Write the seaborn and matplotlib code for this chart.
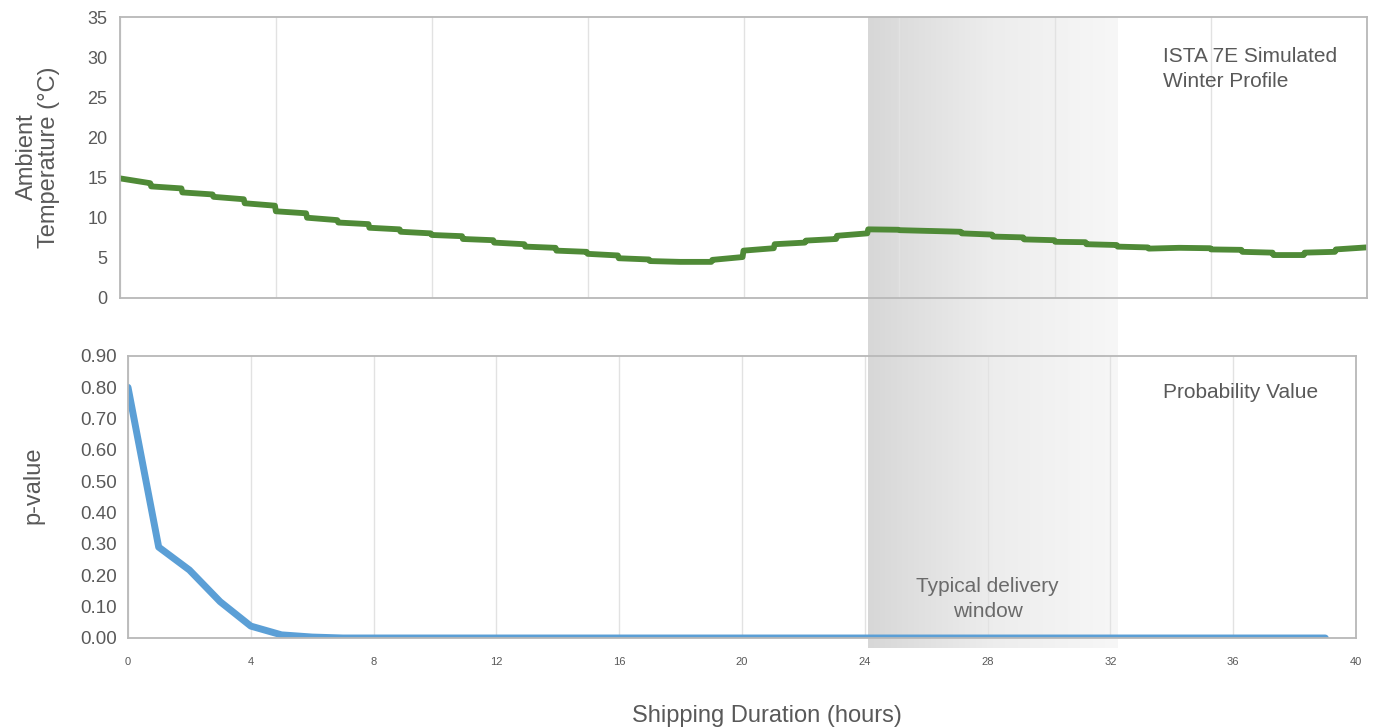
import numpy as np
import pandas as pd
import seaborn as sns
import matplotlib.pyplot as plt
from matplotlib.colors import LinearSegmentedColormap

# hourly temperature profile: value right after each hourly step and just before the next one
hours = list(range(40))
temp_start = [14.9, 13.9, 13.15, 12.6, 11.8, 10.8, 10.0, 9.4, 8.75, 8.25,
              7.85, 7.35, 6.9, 6.4, 5.9, 5.5, 4.95, 4.6, 4.5, 4.75,
              5.9, 6.7, 7.15, 7.75, 8.55, 8.45, 8.35, 8.05, 7.65, 7.3,
              7.0, 6.7, 6.4, 6.15, 6.25, 6.05, 5.75, 5.35, 5.65, 6.05]
temp_end = [14.3, 13.65, 12.9, 12.3, 11.5, 10.55, 9.7, 9.2, 8.55, 8.05,
            7.7, 7.2, 6.7, 6.25, 5.75, 5.3, 4.8, 4.5, 4.5, 5.1,
            6.2, 6.9, 7.35, 8.05, 8.5, 8.35, 8.25, 7.9, 7.55, 7.2,
            6.95, 6.6, 6.3, 6.25, 6.2, 6.0, 5.65, 5.35, 5.75, 6.3]

# p-value per hour
p_hours = list(range(40))
p_values = [0.80, 0.29, 0.217, 0.116, 0.038, 0.010, 0.003] + [0.0] * 33

window = (24, 32)

# build step table
rows = []
for h, s, e in zip(hours, temp_start, temp_end):
    rows.append((h, s))
    rows.append((h + 0.97, e))
temp_df = pd.DataFrame(rows, columns=['hour', 'temp'])
p_df = pd.DataFrame({'hour': p_hours, 'p': p_values})

sns.set_theme(style='white')
plt.rcParams['font.family'] = ['Liberation Sans', 'DejaVu Sans']

W, H = 1373, 727
fig = plt.figure(figsize=(W / 100, H / 100), dpi=100)

def px_rect(left, top, right, bottom):
    return [left / W, 1 - bottom / H, (right - left) / W, (bottom - top) / H]

# background band for the delivery window, sharing x scale with the top panel
ax_bg = fig.add_axes(px_rect(120, 17, 1367, 648), zorder=0)
ax_bg.axis('off')
cmap = LinearSegmentedColormap.from_list('band', ['#d7d7d7', '#ededed', '#f7f7f7'])
ax_bg.imshow(np.linspace(0, 1, 256).reshape(1, -1), extent=(window[0], window[1], 0, 1),
             aspect='auto', cmap=cmap, interpolation='bilinear')
ax_bg.set_xlim(0, 40)
ax_bg.set_ylim(0, 1)

ax_top = fig.add_axes(px_rect(120, 17, 1367, 298), zorder=1)
ax_bot = fig.add_axes(px_rect(128, 356, 1356, 638), zorder=1)

grey_txt = '#595959'
spine_col = '#b8b8b8'
for ax in (ax_top, ax_bot):
    ax.set_facecolor('none')
    for sp in ax.spines.values():
        sp.set_color(spine_col)
        sp.set_linewidth(1.3)
    ax.grid(axis='x', color='#e2e2e2', linewidth=1)
    ax.grid(axis='y', visible=False)
    ax.set_axisbelow(True)

# top panel: temperature
sns.lineplot(data=temp_df, x='hour', y='temp', ax=ax_top, estimator=None, sort=False,
             color='#4f8a37', linewidth=4.2)
ax_top.set_xlim(0, 40)
ax_top.set_ylim(0, 35)
ax_top.set_xticks(range(0, 41, 5))
ax_top.set_xticklabels([])
ax_top.set_yticks(range(0, 36, 5))
ax_top.tick_params(axis='y', length=0, pad=9, labelsize=13, labelcolor=grey_txt)
ax_top.tick_params(axis='x', length=0)
ax_top.set_xlabel('')
ax_top.set_ylabel('')
ax_top.text(33.45, 31.3, 'ISTA 7E Simulated\nWinter Profile', fontsize=15, color=grey_txt,
            ha='left', va='top', linespacing=1.45)

# bottom panel: p-value
sns.lineplot(data=p_df, x='hour', y='p', ax=ax_bot, color='#5b9fd6', linewidth=5,
             solid_capstyle='round')
ax_bot.set_xlim(0, 40)
ax_bot.set_ylim(0, 0.9)
ax_bot.set_xticks(range(0, 41, 4))
ax_bot.set_yticks(np.arange(0, 0.91, 0.1))
ax_bot.set_yticklabels([f'{v:.2f}' for v in np.arange(0, 0.91, 0.1)])
ax_bot.tick_params(axis='y', length=0, pad=8, labelsize=13.5, labelcolor=grey_txt)
ax_bot.tick_params(axis='x', length=0, pad=14, labelsize=8, labelcolor=grey_txt)
ax_bot.set_xlabel('')
ax_bot.set_ylabel('')
ax_bot.text(33.7, 0.785, 'Probability Value', fontsize=15, color=grey_txt, ha='left', va='center')
ax_bot.text(28, 0.125, 'Typical delivery\nwindow', fontsize=15, color='#6a6a6a',
            ha='center', va='center', multialignment='center', linespacing=1.4)

fig.text(38 / W, 1 - 157 / H, 'Ambient\nTemperature (°C)', rotation=90, fontsize=17,
         color=grey_txt, ha='center', va='center', multialignment='center', linespacing=1.05)
fig.text(33 / W, 1 - 485 / H, 'p-value', rotation=90, fontsize=17, color=grey_txt,
         ha='center', va='center')
fig.text(767 / W, 1 - 716 / H, 'Shipping Duration (hours)', fontsize=17, color=grey_txt,
         ha='center', va='center')

fig.savefig('out.png', dpi=100)
